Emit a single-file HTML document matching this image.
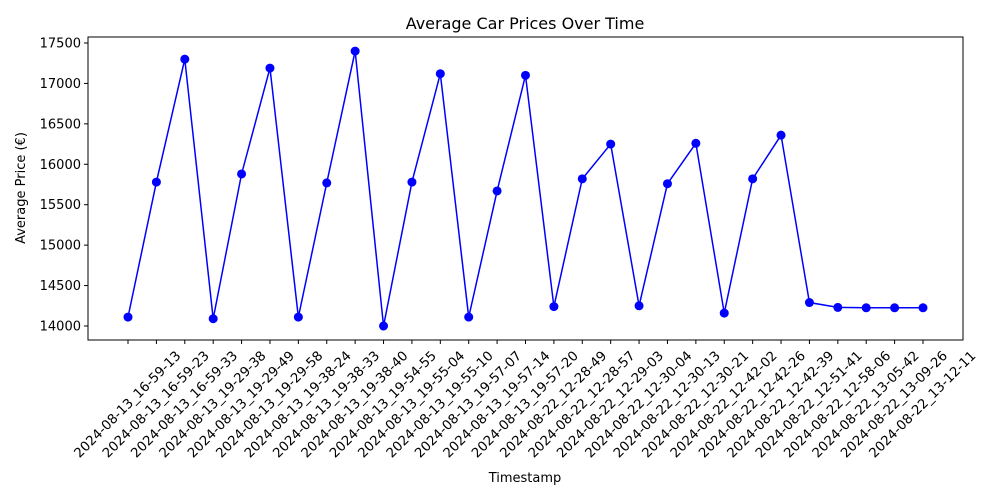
<!DOCTYPE html>
<html><head><meta charset="utf-8"><style>
body{margin:0;background:#fff;}
svg{display:block;font-family:"DejaVu Sans","Liberation Sans",sans-serif;}
</style></head><body>
<svg id="chart" width="1000" height="500">
<text x="525" y="29" text-anchor="middle" font-size="16">Average Car Prices Over Time</text>
<rect x="88" y="37" width="875" height="303" fill="none" stroke="#000" stroke-width="1"/>
<g id="yticks"></g>
<g id="xticks"></g>
<g id="series"></g>
<text x="525" y="482" text-anchor="middle" font-size="13">Timestamp</text>
<text transform="translate(25,188) rotate(-90)" text-anchor="middle" font-size="13">Average Price (€)</text>
</svg>
<script>
const categories=["2024-08-13_16-59-13","2024-08-13_16-59-23","2024-08-13_16-59-33","2024-08-13_19-29-38","2024-08-13_19-29-49","2024-08-13_19-29-58","2024-08-13_19-38-24","2024-08-13_19-38-33","2024-08-13_19-38-40","2024-08-13_19-54-55","2024-08-13_19-55-04","2024-08-13_19-55-10","2024-08-13_19-57-07","2024-08-13_19-57-14","2024-08-13_19-57-20","2024-08-22_12-28-49","2024-08-22_12-28-57","2024-08-22_12-29-03","2024-08-22_12-30-04","2024-08-22_12-30-13","2024-08-22_12-30-21","2024-08-22_12-42-02","2024-08-22_12-42-26","2024-08-22_12-42-39","2024-08-22_12-51-41","2024-08-22_12-58-06","2024-08-22_13-05-42","2024-08-22_13-09-26","2024-08-22_13-12-11"];
const prices=[14110,15780,17300,14090,15880,17190,14110,15770,17400,14000,15780,17120,14110,15670,17100,14240,15820,16250,14250,15760,16260,14160,15820,16360,14290,14230,14225,14225,14225];
const yTicks=[14000,14500,15000,15500,16000,16500,17000,17500];
const NS="http://www.w3.org/2000/svg";
function xPos(i){return 128+i*(923-128)/(categories.length-1);}
function yPos(v){return 326-(v-14000)*(326-43)/3500;}
function mk(tag,attrs,parent){const e=document.createElementNS(NS,tag);for(const k in attrs)e.setAttribute(k,attrs[k]);parent.appendChild(e);return e;}
const yg=document.getElementById('yticks');
yTicks.forEach(v=>{
  const y=yPos(v);
  const l=mk('line',{x1:84,x2:88,y1:y,y2:y,stroke:'#000'},yg);
  
  
  const t=mk('text',{x:81,y:y+4.5,'text-anchor':'end','font-size':13},yg);
  t.textContent=v;
  
  
});
const xg=document.getElementById('xticks');
categories.forEach((c,i)=>{
  const x=xPos(i);
  const l=mk('line',{x1:x,x2:x,y1:340,y2:344,stroke:'#000'},xg);
  
  
  const t=mk('text',{x:0,y:0,'text-anchor':'middle','dominant-baseline':'central','font-size':13.3,transform:`translate(${x},405) rotate(-45)`},xg);
  t.textContent=c;
  
  
});
const sg=document.getElementById('series');
const pts=prices.map((v,i)=>xPos(i)+','+yPos(v)).join(' ');
const pl=mk('polyline',{points:pts,fill:'none',stroke:'#0000ff','stroke-width':1.5},sg);


prices.forEach((v,i)=>{
  const c=mk('circle',{cx:xPos(i),cy:yPos(v),r:4.5,fill:'#0000ff'},sg);
  
  
});
</script>
</body></html>
